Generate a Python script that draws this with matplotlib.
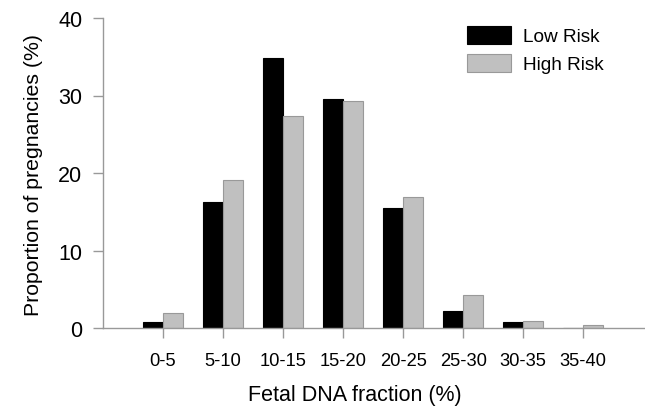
import numpy as np
import matplotlib
matplotlib.use('Agg')
import matplotlib.pyplot as plt

plt.rcParams['font.family'] = ['Liberation Sans', 'DejaVu Sans']

categories = ['0-5', '5-10', '10-15', '15-20', '20-25', '25-30', '30-35', '35-40']
low_risk = [0.75, 16.3, 34.8, 29.5, 15.5, 2.2, 0.75, 0.0]
high_risk = [1.9, 19.1, 27.4, 29.3, 16.9, 4.2, 0.95, 0.35]

AXIS_GREY = '#999999'

fig = plt.figure(figsize=(6.45, 4.10), dpi=100)
ax = fig.add_axes([103 / 645, 1 - 329 / 410, 542 / 645, 310 / 410])

x = np.arange(len(categories))
w = 1 / 3
ax.bar(x - w / 2, low_risk, w, color='black', edgecolor='black', linewidth=0.8, label='Low Risk')
ax.bar(x + w / 2, high_risk, w, color='#c0c0c0', edgecolor='#999999', linewidth=0.8, label='High Risk')

ax.set_xlim(-1, 8.03)
ax.set_ylim(0, 40)
ax.set_yticks([0, 10, 20, 30, 40])
ax.set_xticks(x)
ax.set_xticklabels(categories)

for side in ['top', 'right']:
    ax.spines[side].set_visible(False)
for side in ['left', 'bottom']:
    ax.spines[side].set_color(AXIS_GREY)
    ax.spines[side].set_linewidth(1.0)
ax.tick_params(axis='both', colors=AXIS_GREY, length=7, width=1.0, labelcolor='black')
ax.tick_params(axis='y', labelsize=15.5, pad=8)
ax.tick_params(axis='x', labelsize=13.2, pad=10)

ax.set_xlabel('Fetal DNA fraction (%)', fontsize=15.5)
ax.xaxis.set_label_coords((355 - 103) / 542, -0.18)
ax.set_ylabel('Proportion of pregnancies (%)', fontsize=15.3)
ax.yaxis.set_label_coords(-0.111, 0.497)

ax.legend(loc='upper left', bbox_to_anchor=(0.64, 1.03), frameon=False, fontsize=13.7,
          handlelength=2.3, handleheight=1.07, handletextpad=0.62, labelspacing=0.45)

fig.savefig('out.png', dpi=100)
